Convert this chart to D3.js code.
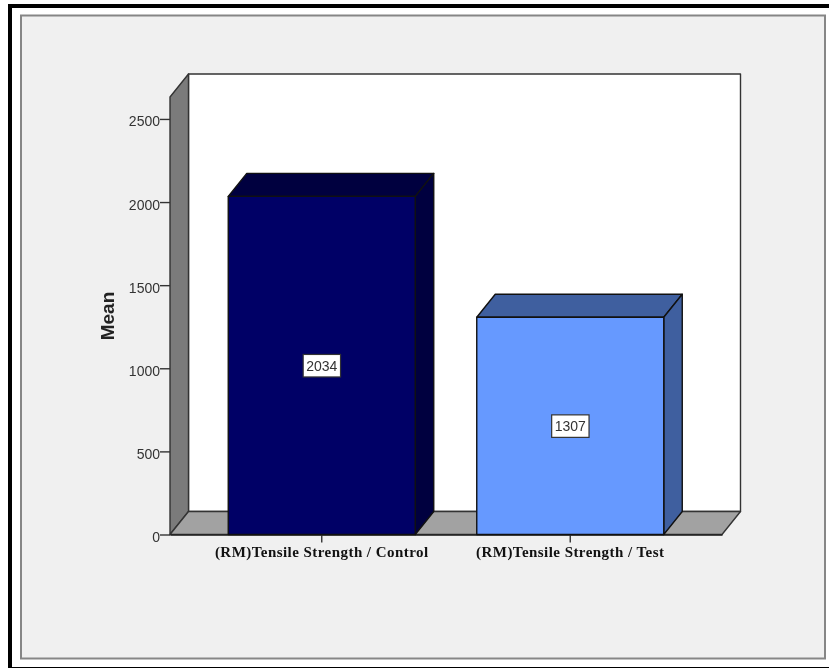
<!DOCTYPE html>
<html>
<head>
<meta charset="utf-8">
<script src="https://cdn.jsdelivr.net/npm/d3@7"></script>
<style>
  html, body { margin: 0; padding: 0; background: #fff; }
  svg { display: block; filter: blur(0.6px); }
  .ytick text { font-family: "Liberation Sans", sans-serif; font-size: 14px; fill: #333; }
  .xtick text { font-family: "Liberation Serif", serif; font-size: 15px; font-weight: bold; fill: #111; letter-spacing: 0.45px; }
</style>
</head>
<body>
<div id="chart"></div>
<script>
var categories = ["(RM)Tensile Strength / Control", "(RM)Tensile Strength / Test"];
var means = [2034, 1307];
var yTicks = [0, 500, 1000, 1500, 2000, 2500];
var frontColors = ["#000066", "#6699ff"];
var sideColors = ["#00003f", "#3f5f9f"];

var w = 829, h = 668;
var plotLeft = 170, plotRight = 722, plotBottom = 534.5, plotTop = 97;
var dx = 18.5, dy = 23;   // depth of the 3d box
var edge = "#222";

var svg = d3.select("#chart").append("svg")
    .attr("width", w)
    .attr("height", h);

var x = d3.scaleBand()
    .domain(categories)
    .range([plotLeft, plotRight])
    .paddingInner(0.2475)
    .paddingOuter(0.2344);

var y = d3.scaleLinear()
    .domain([0, 2632])
    .range([plotBottom, plotTop]);

function poly(points, fill, stroke){
    svg.append("polygon")
        .attr("points", points.map(function(p){return p.join(",")}).join(" "))
        .attr("fill", fill)
        .attr("stroke", stroke || edge)
        .attr("stroke-width", 1.4)
        .attr("stroke-linejoin", "round");
}

// page frame
svg.append("rect").attr("x", 10).attr("y", 6).attr("width", 840).attr("height", 663)
    .attr("fill", "#fff").attr("stroke", "#000").attr("stroke-width", 4);
svg.append("rect").attr("x", 21).attr("y", 15.5).attr("width", 804).attr("height", 643)
    .attr("fill", "#f0f0f0").attr("stroke", "#868686").attr("stroke-width", 2);

// walls and floor
poly([[plotLeft+dx, plotTop-dy], [plotRight+dx, plotTop-dy], [plotRight+dx, plotBottom-dy], [plotLeft+dx, plotBottom-dy]], "#fff", "#333");
poly([[plotLeft, plotTop], [plotLeft+dx, plotTop-dy], [plotLeft+dx, plotBottom-dy], [plotLeft, plotBottom]], "#7b7b7b", "#333");
poly([[plotLeft, plotBottom], [plotLeft+dx, plotBottom-dy], [plotRight+dx, plotBottom-dy], [plotRight, plotBottom]], "#a2a2a2", "#333");

// axes
var yAxis = d3.axisLeft(y).tickValues(yTicks).tickSize(10).tickSizeOuter(0).tickPadding(0).tickFormat(d3.format("d"));
var gy = svg.append("g").attr("class", "ytick").attr("transform", "translate(" + plotLeft + ",0)").call(yAxis);
gy.select(".domain").remove();
gy.selectAll("line").attr("stroke", "#333").attr("stroke-width", 1.4);
gy.selectAll("text").attr("dy", "0.5em");

var xAxis = d3.axisBottom(x).tickSize(8).tickSizeOuter(0).tickPadding(4);
var gx = svg.append("g").attr("class", "xtick").attr("transform", "translate(0," + plotBottom + ")").call(xAxis);
gx.select(".domain").attr("stroke", edge).attr("stroke-width", 1.4);
gx.selectAll("line").attr("stroke", "#333").attr("stroke-width", 1.4);

svg.append("text")
    .attr("transform", "translate(113.5,316) rotate(-90)")
    .attr("text-anchor", "middle")
    .attr("font-family", "Liberation Sans, sans-serif")
    .attr("font-size", 19)
    .attr("font-weight", "bold")
    .attr("fill", "#222")
    .text("Mean");

// bars
categories.forEach(function(c, i){
    var x0 = x(c), x1 = x(c) + x.bandwidth(), yTop = y(means[i]);
    poly([[x0, yTop], [x0+dx, yTop-dy], [x1+dx, yTop-dy], [x1, yTop]], sideColors[i], "#111");
    poly([[x1, yTop], [x1+dx, yTop-dy], [x1+dx, plotBottom-dy], [x1, plotBottom]], sideColors[i], "#111");
    poly([[x0, yTop], [x1, yTop], [x1, plotBottom], [x0, plotBottom]], frontColors[i], "#111");

    var mid = y(means[i] / 2);
    var cx = x0 + x.bandwidth() / 2;
    var t = svg.append("text")
        .attr("x", cx)
        .attr("y", mid)
        .attr("dy", "0.4em")
        .attr("text-anchor", "middle")
        .attr("font-family", "Liberation Sans, sans-serif")
        .attr("font-size", 14)
        .attr("fill", "#333")
        .text(means[i]);
    var b = t.node().getBBox();
    svg.insert("rect", function(){ return t.node(); })
        .attr("x", b.x - 3)
        .attr("y", mid - 11)
        .attr("width", b.width + 6)
        .attr("height", 22.5)
        .attr("fill", "#fff")
        .attr("stroke", "#333")
        .attr("stroke-width", 1.2);
});
</script>
</body>
</html>
